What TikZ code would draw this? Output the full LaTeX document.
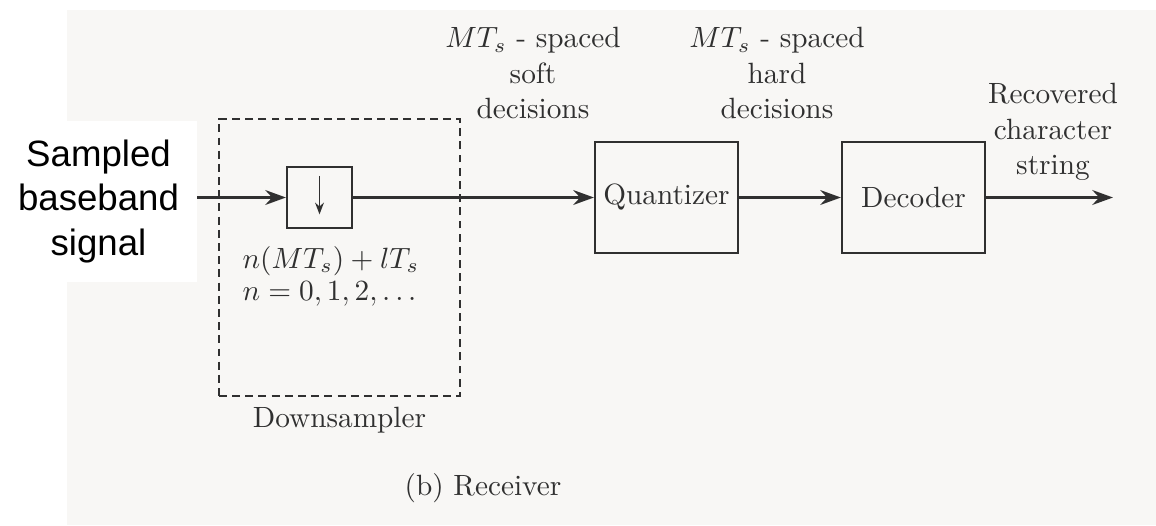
\documentclass[tikz,border=0pt]{standalone}
\usepackage{fontspec}
\newfontfamily\labelsans{Liberation Sans}
\usetikzlibrary{positioning,arrows.meta}
\definecolor{paper}{RGB}{248,247,245}
\definecolor{ink}{RGB}{48,48,48}
\tikzset{
  blockbox/.style={draw=ink,line width=0.7pt,fill=paper,inner sep=0pt},
  sigline/.style={draw=ink,line width=1.2pt,-{Stealth[length=7pt,width=5pt]}},
}

\begin{document}
\begin{tikzpicture}[x=0.012cm,y=-0.012cm,font=\fontsize{10}{12}\selectfont,text=ink]
  \useasboundingbox (0,0) rectangle (1156,525);
  \fill[white] (0,0) rectangle (1156,525);
  \fill[paper] (67,10) rectangle (1156,525);

  % input label on its white patch
  \node[fill=white,text=black,minimum width=2.364cm,minimum height=1.932cm,align=center,
        font=\labelsans\fontsize{12.5}{15.3}\selectfont]
    (insig) at (98.5,201.5) {Sampled\\baseband\\signal};

  % downsampler
  \node[draw=ink,dashed,dash pattern=on 2.7pt off 1.8pt,line width=0.6pt,
        minimum width=2.892cm,minimum height=3.324cm] (ds) at (339.5,257.5) {};
  \node[below=0pt of ds] (dslabel) {Downsampler};
  \node[blockbox,minimum width=0.78cm,minimum height=0.732cm] (down) at (319.5,197.5) {};
  \draw[ink,line width=0.6pt,-{Stealth[length=4pt,width=3pt]}]
    ([yshift=-3.4pt]down.north) -- ([yshift=5pt]down.south);
  \node[anchor=base west,inner sep=0pt] (rate) at (242,268) {$n(MT_s) + lT_s$};
  \node[anchor=base west,inner sep=0pt] (rateidx) at (242,300) {$n = 0, 1, 2, \ldots$};

  % quantizer and decoder
  \node[blockbox,minimum width=1.716cm,minimum height=1.332cm] (quant) at (666.5,197.5) {Quantizer};
  \node[blockbox,minimum width=1.716cm,minimum height=1.332cm] (dec) at (913.5,197.5) {Decoder};

  \coordinate (in) at (197,197.5);
  \coordinate (out) at (1113,197.5);
  \draw[sigline] (in) -- (down.west);
  \draw[sigline] (down.east) -- (quant.west);
  \draw[sigline] (quant.east) -- (dec.west);
  \draw[sigline] (dec.east) -- (out);

  % signal labels
  \node[align=center] (soft) at (533,73) {$MT_s$ - spaced\\soft\\decisions};
  \node[align=center] (hard) at (777,73) {$MT_s$ - spaced\\hard\\decisions};
  \node[align=center] (recov) at (1053,132) {Recovered\\character\\string};

  \node (cap) at (483,488) {(b) Receiver};
\end{tikzpicture}
\end{document}
